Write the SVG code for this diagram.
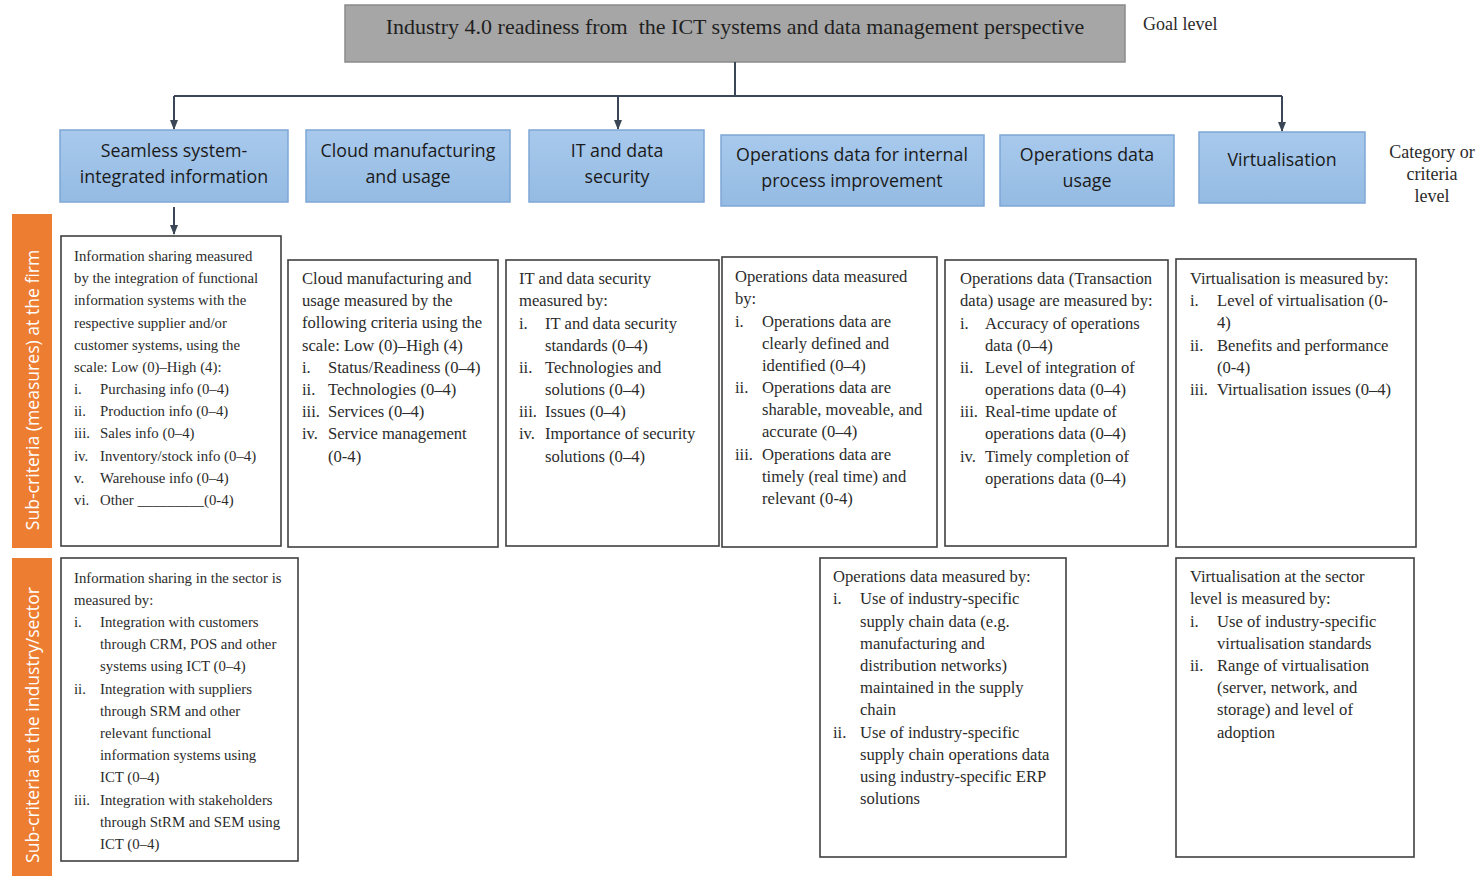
<svg xmlns="http://www.w3.org/2000/svg" width="1482" height="876" viewBox="0 0 1482 876">
<style>
.cat{fill:url(#blue);stroke:#7ea7d6;stroke-width:1.5}
.ct{font-family:"Open Sans","Noto Sans",sans-serif;font-size:17.8px;fill:#1a1a1a;text-anchor:middle}
.box{fill:#fff;stroke:#404040;stroke-width:1.6}
.t{font-family:"Liberation Serif","Times New Roman",serif;font-size:16.6px;fill:#2b2b2b}
.ts{font-family:"Liberation Serif","Times New Roman",serif;font-size:14.8px;fill:#2b2b2b}
.lbl{font-family:"Liberation Serif","Times New Roman",serif;font-size:18px;fill:#2b2b2b}
.side{fill:#ed7d31}
.st{font-family:"Open Sans","Noto Sans",sans-serif;font-size:17.6px;fill:#fff;text-anchor:middle}
.con{stroke:#3b4656;fill:none;stroke-width:2}
</style>
<defs>
<linearGradient id="blue" x1="0" y1="0" x2="0" y2="1">
<stop offset="0" stop-color="#a8c9ec"/>
<stop offset="1" stop-color="#94bbe3"/>
</linearGradient>
<marker id="arr" markerWidth="10" markerHeight="10" refX="9" refY="5" orient="auto" markerUnits="userSpaceOnUse">
<path d="M0,1 L10,5 L0,9 z" fill="#3b4656"/>
</marker>
</defs>
<rect width="1482" height="876" fill="#fff"/>

<g id="goal">
<rect x="345" y="5" width="780" height="57" fill="#a6a6a6" stroke="#8a8a8a" stroke-width="1.5"/>
<text x="735" y="34" font-family="Liberation Serif,serif" font-size="22" fill="#1f1f1f" text-anchor="middle" xml:space="preserve">Industry 4.0 readiness from  the ICT systems and data management perspective</text>
</g>
<g id="goal-label"><text class="lbl" x="1143" y="30">Goal level</text></g>
<g id="cat-label">
<text class="lbl" x="1432" y="158" text-anchor="middle">Category or</text>
<text class="lbl" x="1432" y="180" text-anchor="middle">criteria</text>
<text class="lbl" x="1432" y="202" text-anchor="middle">level</text>
</g>

<g id="connectors">
<path class="con" d="M735,62 V96"/>
<path class="con" d="M174,96 H1282" stroke-width="3"/>
<path class="con" d="M174,96 V129" marker-end="url(#arr)"/>
<path class="con" d="M618,96 V129" marker-end="url(#arr)"/>
<path class="con" d="M1282,96 V131" marker-end="url(#arr)"/>
<path class="con" d="M174,207 V234" marker-end="url(#arr)"/>
</g>

<g id="cat1"><rect class="cat" x="60" y="130" width="228" height="72"/>
<text class="ct" x="174" y="157">Seamless system-</text><text class="ct" x="174" y="183">integrated information</text></g>
<g id="cat2"><rect class="cat" x="306" y="130" width="204" height="72"/>
<text class="ct" x="408" y="157">Cloud manufacturing</text><text class="ct" x="408" y="183">and usage</text></g>
<g id="cat3"><rect class="cat" x="529" y="130" width="175" height="72"/>
<text class="ct" x="617" y="157">IT and data</text><text class="ct" x="617" y="183">security</text></g>
<g id="cat4"><rect class="cat" x="721" y="135" width="263" height="71"/>
<text class="ct" x="852" y="161">Operations data for internal</text><text class="ct" x="852" y="187">process improvement</text></g>
<g id="cat5"><rect class="cat" x="1000" y="135" width="174" height="71"/>
<text class="ct" x="1087" y="161">Operations data</text><text class="ct" x="1087" y="187">usage</text></g>
<g id="cat6"><rect class="cat" x="1199" y="132" width="166" height="71"/>
<text class="ct" x="1282" y="166">Virtualisation</text></g>

<g id="side-firm"><rect class="side" x="12" y="214" width="40" height="334"/>
<text class="st" transform="translate(39,390) rotate(-90)">Sub-criteria (measures) at the firm</text></g>
<g id="side-sector"><rect class="side" x="12" y="558" width="40" height="318"/>
<text class="st" transform="translate(39,725) rotate(-90)">Sub-criteria at the industry/sector</text></g>

<g id="firm-seamless"><rect class="box" x="61" y="236" width="220" height="310"/>
<g class="ts">
<text x="74" y="261">Information sharing measured</text>
<text x="74" y="283">by the integration of functional</text>
<text x="74" y="305">information systems with the</text>
<text x="74" y="328">respective supplier and/or</text>
<text x="74" y="350">customer systems, using the</text>
<text x="74" y="372">scale: Low (0)–High (4):</text>
<text x="74" y="394">i.</text><text x="100" y="394">Purchasing info (0–4)</text>
<text x="74" y="416">ii.</text><text x="100" y="416">Production info (0–4)</text>
<text x="74" y="438">iii.</text><text x="100" y="438">Sales info (0–4)</text>
<text x="74" y="461">iv.</text><text x="100" y="461">Inventory/stock info (0–4)</text>
<text x="74" y="483">v.</text><text x="100" y="483">Warehouse info (0–4)</text>
<text x="74" y="505">vi.</text><text x="100" y="505">Other _________(0-4)</text>
</g></g>

<g id="firm-cloud"><rect class="box" x="288" y="260" width="210" height="287"/>
<g class="t">
<text x="302" y="284">Cloud manufacturing and</text>
<text x="302" y="306">usage measured by the</text>
<text x="302" y="328">following criteria using the</text>
<text x="302" y="351">scale: Low (0)–High (4)</text>
<text x="302" y="373">i.</text><text x="328" y="373">Status/Readiness (0–4)</text>
<text x="302" y="395">ii.</text><text x="328" y="395">Technologies (0–4)</text>
<text x="302" y="417">iii.</text><text x="328" y="417">Services (0–4)</text>
<text x="302" y="439">iv.</text><text x="328" y="439">Service management</text>
<text x="328" y="462">(0-4)</text>
</g></g>

<g id="firm-security"><rect class="box" x="506" y="260" width="213" height="286"/>
<g class="t">
<text x="519" y="284">IT and data security</text>
<text x="519" y="306">measured by:</text>
<text x="519" y="329">i.</text><text x="545" y="329">IT and data security</text>
<text x="545" y="351">standards (0–4)</text>
<text x="519" y="373">ii.</text><text x="545" y="373">Technologies and</text>
<text x="545" y="395">solutions (0–4)</text>
<text x="519" y="417">iii.</text><text x="545" y="417">Issues (0–4)</text>
<text x="519" y="439">iv.</text><text x="545" y="439">Importance of security</text>
<text x="545" y="462">solutions (0–4)</text>
</g></g>

<g id="firm-opsinternal"><rect class="box" x="722" y="257" width="215" height="290"/>
<g class="t">
<text x="735" y="282">Operations data measured</text>
<text x="735" y="304">by:</text>
<text x="735" y="327">i.</text><text x="762" y="327">Operations data are</text>
<text x="762" y="349">clearly defined and</text>
<text x="762" y="371">identified (0–4)</text>
<text x="735" y="393">ii.</text><text x="762" y="393">Operations data are</text>
<text x="762" y="415">sharable, moveable, and</text>
<text x="762" y="437">accurate (0–4)</text>
<text x="735" y="460">iii.</text><text x="762" y="460">Operations data are</text>
<text x="762" y="482">timely (real time) and</text>
<text x="762" y="504">relevant (0-4)</text>
</g></g>

<g id="firm-opsusage"><rect class="box" x="945" y="260" width="223" height="286"/>
<g class="t">
<text x="960" y="284">Operations data (Transaction</text>
<text x="960" y="306">data) usage are measured by:</text>
<text x="960" y="329">i.</text><text x="985" y="329">Accuracy of operations</text>
<text x="985" y="351">data (0–4)</text>
<text x="960" y="373">ii.</text><text x="985" y="373">Level of integration of</text>
<text x="985" y="395">operations data (0–4)</text>
<text x="960" y="417">iii.</text><text x="985" y="417">Real-time update of</text>
<text x="985" y="439">operations data (0–4)</text>
<text x="960" y="462">iv.</text><text x="985" y="462">Timely completion of</text>
<text x="985" y="484">operations data (0–4)</text>
</g></g>

<g id="firm-virtual"><rect class="box" x="1176" y="259" width="240" height="288"/>
<g class="t">
<text x="1190" y="284">Virtualisation is measured by:</text>
<text x="1190" y="306">i.</text><text x="1217" y="306">Level of virtualisation (0-</text>
<text x="1217" y="328">4)</text>
<text x="1190" y="351">ii.</text><text x="1217" y="351">Benefits and performance</text>
<text x="1217" y="373">(0-4)</text>
<text x="1190" y="395">iii.</text><text x="1217" y="395">Virtualisation issues (0–4)</text>
</g></g>

<g id="sector-seamless"><rect class="box" x="61" y="558" width="237" height="303"/>
<g class="ts">
<text x="74" y="583">Information sharing in the sector is</text>
<text x="74" y="605">measured by:</text>
<text x="74" y="627">i.</text><text x="100" y="627">Integration with customers</text>
<text x="100" y="649">through CRM, POS and other</text>
<text x="100" y="671">systems using ICT (0–4)</text>
<text x="74" y="694">ii.</text><text x="100" y="694">Integration with suppliers</text>
<text x="100" y="716">through SRM and other</text>
<text x="100" y="738">relevant functional</text>
<text x="100" y="760">information systems using</text>
<text x="100" y="782">ICT (0–4)</text>
<text x="74" y="805">iii.</text><text x="100" y="805">Integration with stakeholders</text>
<text x="100" y="827">through StRM and SEM using</text>
<text x="100" y="849">ICT (0–4)</text>
</g></g>

<g id="sector-ops"><rect class="box" x="820" y="558" width="246" height="299"/>
<g class="t">
<text x="833" y="582">Operations data measured by:</text>
<text x="833" y="604">i.</text><text x="860" y="604">Use of industry-specific</text>
<text x="860" y="627">supply chain data (e.g.</text>
<text x="860" y="649">manufacturing and</text>
<text x="860" y="671">distribution networks)</text>
<text x="860" y="693">maintained in the supply</text>
<text x="860" y="715">chain</text>
<text x="833" y="738">ii.</text><text x="860" y="738">Use of industry-specific</text>
<text x="860" y="760">supply chain operations data</text>
<text x="860" y="782">using industry-specific ERP</text>
<text x="860" y="804">solutions</text>
</g></g>

<g id="sector-virtual"><rect class="box" x="1176" y="558" width="238" height="299"/>
<g class="t">
<text x="1190" y="582">Virtualisation at the sector</text>
<text x="1190" y="604">level is measured by:</text>
<text x="1190" y="627">i.</text><text x="1217" y="627">Use of industry-specific</text>
<text x="1217" y="649">virtualisation standards</text>
<text x="1190" y="671">ii.</text><text x="1217" y="671">Range of virtualisation</text>
<text x="1217" y="693">(server, network, and</text>
<text x="1217" y="715">storage) and level of</text>
<text x="1217" y="738">adoption</text>
</g></g>
</svg>
